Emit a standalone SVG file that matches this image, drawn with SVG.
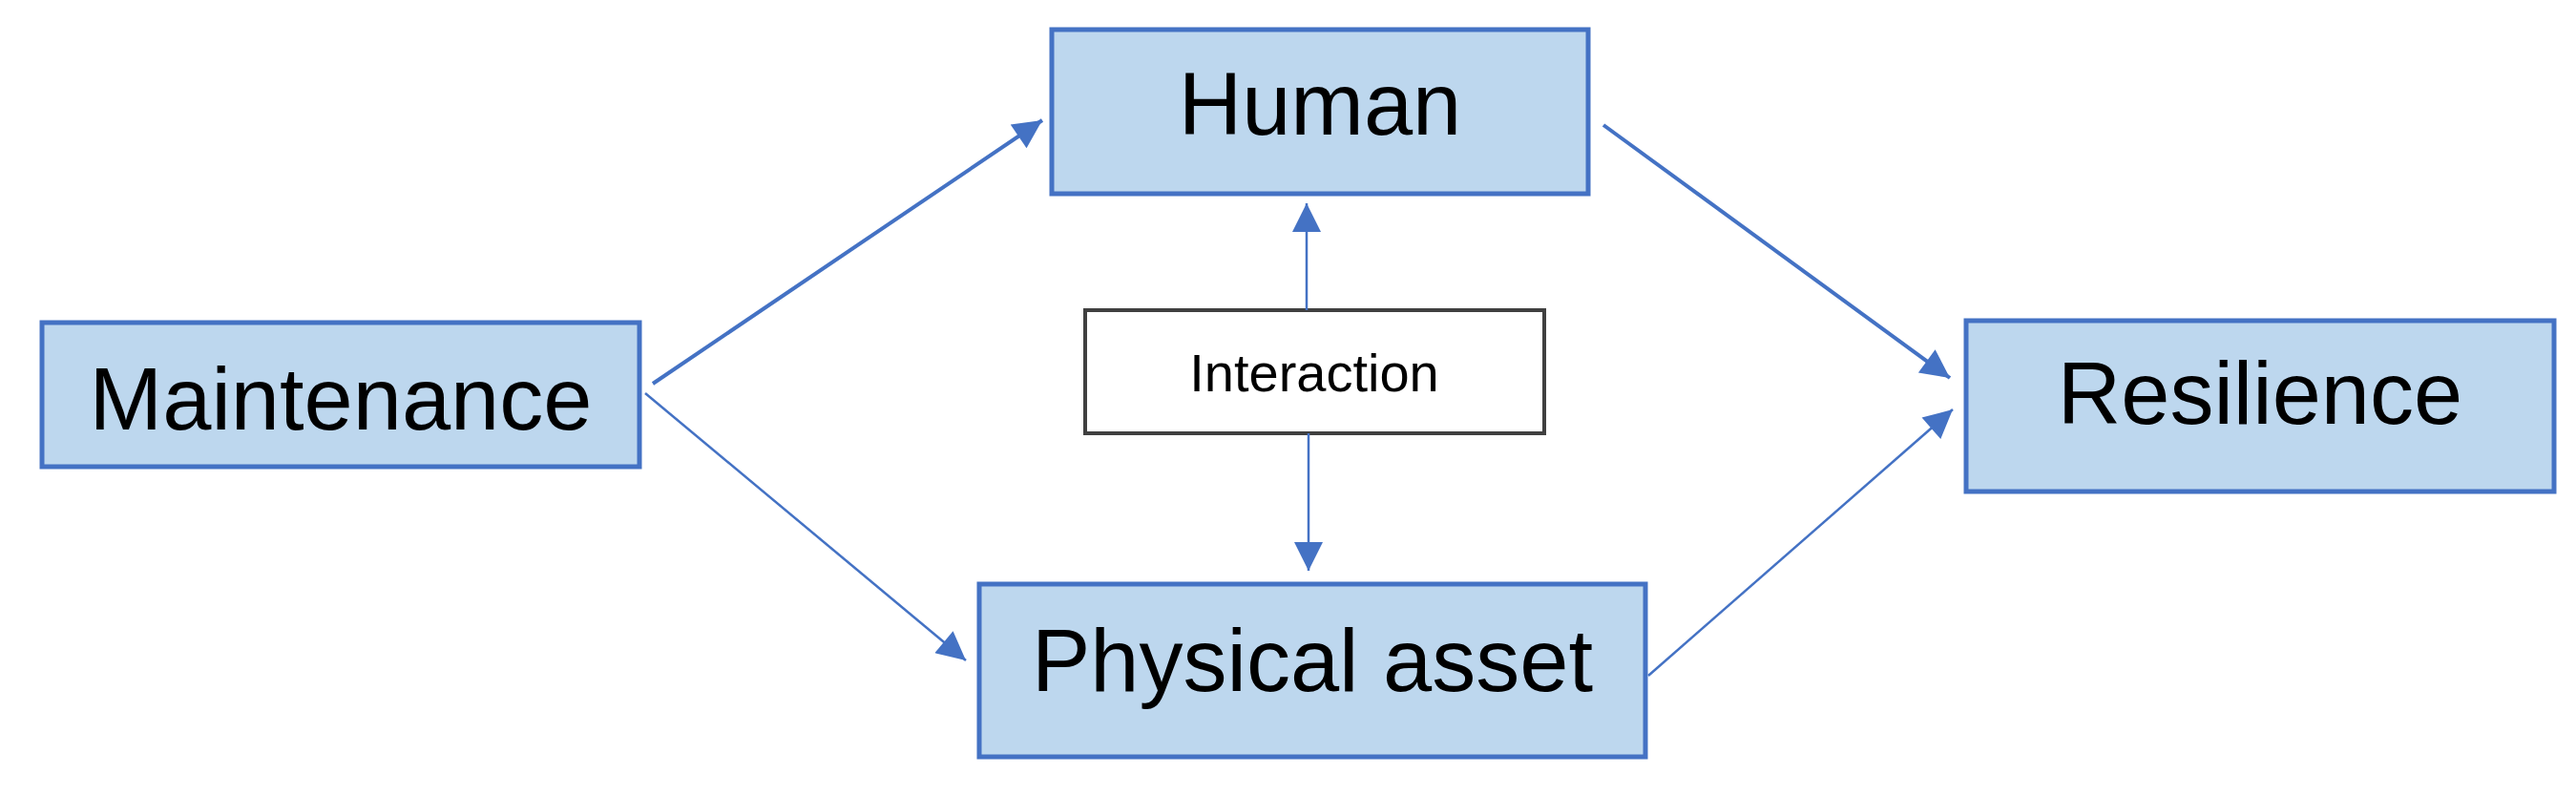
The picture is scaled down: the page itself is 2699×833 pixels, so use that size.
<svg xmlns="http://www.w3.org/2000/svg" width="2699" height="833" viewBox="0 0 2699 833">
<style>
.box{fill:#BDD7EE;stroke:#4472C4;stroke-width:5}
.lbl{font-family:"Liberation Sans",Arial,sans-serif;font-size:92px;fill:#000;text-anchor:middle}
.c{stroke:#4472C4;fill:none}
</style>
<defs>
<marker id="ah" viewBox="0 0 10 10" refX="10" refY="5" markerWidth="8" markerHeight="8" markerUnits="userSpaceOnUse" orient="auto"><path d="M0,0L10,5L0,10z" fill="#4472C4"/></marker>
<marker id="a1" viewBox="0 0 10 10" refX="10" refY="5" markerWidth="32" markerHeight="30" markerUnits="userSpaceOnUse" orient="auto"><path d="M0,0L10,5L0,10z" fill="#4472C4"/></marker>
</defs>
<rect width="2699" height="833" fill="#fff"/>
<g id="maintenance"><rect class="box" x="44" y="338" width="626" height="151"/><text class="lbl" x="357" y="450">Maintenance</text></g>
<g id="human"><rect class="box" x="1102" y="31" width="562" height="172"/><text class="lbl" x="1383" y="141">Human</text></g>
<g id="interaction"><rect x="1137" y="325" width="481" height="129" fill="#fff" stroke="#404040" stroke-width="4"/><text x="1377" y="410" font-family="'Liberation Sans',Arial,sans-serif" font-size="56" text-anchor="middle">Interaction</text></g>
<g id="physical"><rect class="box" x="1026" y="612" width="698" height="181"/><text class="lbl" x="1375" y="724">Physical asset</text></g>
<g id="resilience"><rect class="box" x="2060" y="336" width="616" height="179"/><text class="lbl" x="2368" y="444">Resilience</text></g>
<g id="connectors">
<line class="c" stroke-width="4" x1="684" y1="402" x2="1092" y2="126" marker-end="url(#a1)"/>
<line class="c" stroke-width="2.5" x1="676" y1="412" x2="1012" y2="692" marker-end="url(#a1)"/>
<line class="c" stroke-width="4" x1="1680" y1="131" x2="2043" y2="396" marker-end="url(#a1)"/>
<line class="c" stroke-width="2.5" x1="1727" y1="708" x2="2046" y2="429" marker-end="url(#a1)"/>
<line class="c" stroke-width="2.5" x1="1369" y1="325" x2="1369" y2="213" marker-end="url(#a1)"/>
<line class="c" stroke-width="2.5" x1="1371" y1="454" x2="1371" y2="598" marker-end="url(#a1)"/>
</g>
</svg>
